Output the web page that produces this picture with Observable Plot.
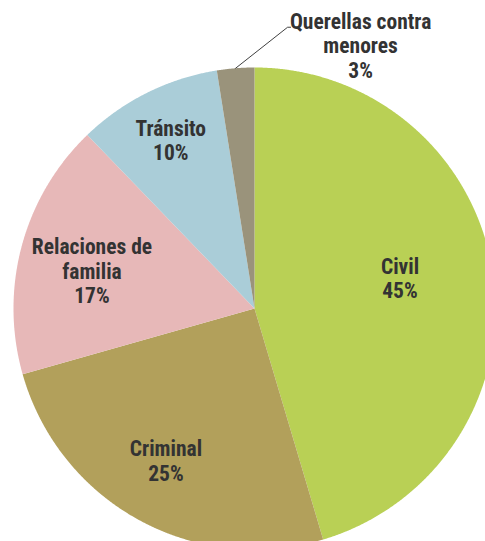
<!DOCTYPE html>
<html>
<head>
<meta charset="utf-8">
<script src="https://cdn.jsdelivr.net/npm/d3@7"></script>
<script src="https://cdn.jsdelivr.net/npm/@observablehq/plot@0.6"></script>
<style>
  html, body { margin: 0; padding: 0; background: #fff; overflow: hidden; }
  #chart svg { display: block; }
</style>
</head>
<body>
<div id="chart"></div>
<script>
// ---- data ----
const categories = ["Civil", "Criminal", "Relaciones de familia", "Tránsito", "Querellas contra menores"];
const labelNames = ["Civil", "Criminal", "Relaciones de\nfamilia", "Tránsito", "Querellas contra\nmenores"];
const values = [45.4, 25.2, 17.2, 9.7, 2.5];
const pctLabels = ["45%", "25%", "17%", "10%", "3%"];
const colors = ["#b9d055", "#b2a05b", "#e7b8b8", "#aacdd8", "#9a937b"];

// ---- layout (styling only) ----
const W = 485, H = 541;
const R = 241;             // pie radius in px
const CX = 254, CY = 308;  // pie centre in px
const labelRadius = [0.61, 0.72, 0.69, 0.78, 1.0];
const labelNudge = [[0, -9], [-5, 0], [-2, 6], [0, 0], [125, -23]];

const arcs = d3.pie().sort(null).value(d => d)(values);

const sliceRows = [];
arcs.forEach((a, i) => {
  sliceRows.push({cat: categories[i], x: 0, y: 0});
  const n = Math.max(2, Math.ceil((a.endAngle - a.startAngle) / 0.004));
  for (let k = 0; k <= n; k++) {
    const t = a.startAngle + (a.endAngle - a.startAngle) * k / n;
    sliceRows.push({cat: categories[i], x: Math.sin(t), y: Math.cos(t)});
  }
});

const labelRows = arcs.map((a, i) => {
  const m = (a.startAngle + a.endAngle) / 2;
  return {
    x: labelRadius[i] * Math.sin(m),
    y: labelRadius[i] * Math.cos(m),
    text: labelNames[i] + "\n" + pctLabels[i],
    dx: labelNudge[i][0],
    dy: labelNudge[i][1]
  };
});

// leader line for the small slice
const last = arcs[arcs.length - 1];
const lm = (last.startAngle + last.endAngle) / 2;
const leaderStart = {x: Math.sin(lm), y: Math.cos(lm)};
const leaderRows = [
  {x: leaderStart.x, y: leaderStart.y},
  {x: leaderStart.x + 52 / R, y: leaderStart.y + 41 / R},
  {x: leaderStart.x + 55 / R, y: leaderStart.y + 41 / R}
];

const font = "'Liberation Sans Narrow', 'Arial Narrow', 'Roboto Condensed', Roboto, sans-serif";

const plot = Plot.plot({
  width: W,
  height: H,
  margin: 0,
  x: {domain: [-CX / R, (W - CX) / R], axis: null},
  y: {domain: [-(H - CY) / R, CY / R], axis: null},
  color: {domain: categories, range: colors},
  style: {fontFamily: font, background: "#fff"},
  marks: [
    Plot.line(sliceRows, {x: "x", y: "y", z: "cat", fill: "cat", stroke: "none", curve: "linear-closed"}),
    Plot.line(leaderRows, {x: "x", y: "y", stroke: "#404040", strokeWidth: 1}),
    ...labelRows.map(d => Plot.text([d], {x: "x", y: "y", text: "text", dx: d.dx, dy: d.dy,
      fontSize: 21.5, fontWeight: "bold", lineHeight: 1.14, fill: "#333"}))
  ]
});
document.getElementById("chart").appendChild(plot);
</script>
</body>
</html>
